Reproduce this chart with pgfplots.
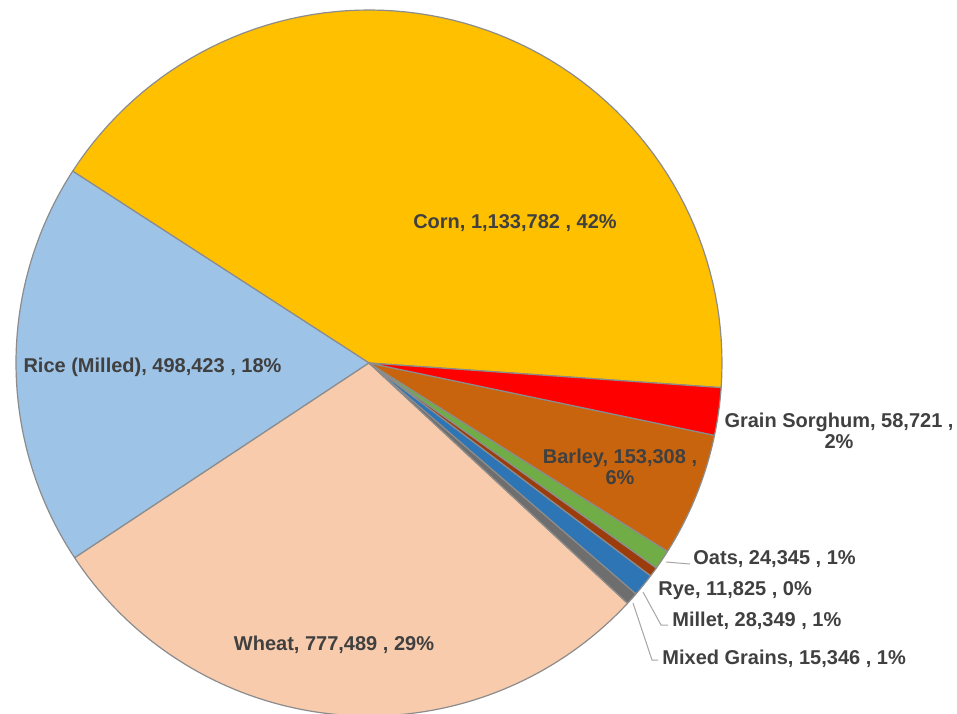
\documentclass[border=0pt]{standalone}
\usepackage{pgfplots}
\usepackage{pgfplotstable}
\pgfplotsset{compat=1.18}
\usepackage{fontspec}
\setmainfont{Liberation Sans}
\definecolor{cCorn}{HTML}{FFC000}
\definecolor{cRice}{HTML}{9DC3E6}
\definecolor{cWheat}{HTML}{F8CBAD}
\definecolor{cMixed}{HTML}{6E6E6E}
\definecolor{cMillet}{HTML}{2E75B6}
\definecolor{cRye}{HTML}{9C3C0C}
\definecolor{cOats}{HTML}{70AD47}
\definecolor{cBarley}{HTML}{C8640E}
\definecolor{cSorghum}{HTML}{FF0000}
\definecolor{edgec}{HTML}{8C8C8C}
\definecolor{labc}{HTML}{404040}
\definecolor{leadc}{HTML}{A6A6A6}
\pgfplotstableread{
name value col
Corn 1133782 cCorn
Rice 498423 cRice
Wheat 777489 cWheat
Mixed 15346 cMixed
Millet 28349 cMillet
Rye 11825 cRye
Oats 24345 cOats
Barley 153308 cBarley
Sorghum 58721 cSorghum
}\graindata
\newcommand\lfont{\fontsize{10}{10.5}\selectfont\bfseries}
\begin{document}
\begin{tikzpicture}
\def\total{0}
\pgfplotsforeachungrouped \i in {0,...,8}{%
  \pgfplotstablegetelem{\i}{value}\of\graindata
  \edef\total{\fpeval{\total+\pgfplotsretval}}%
}
\begin{axis}[scale only axis, width=478.5pt, height=356.5pt,
  xmin=-369, xmax=588, ymin=-350, ymax=363, hide axis, clip=true]
\def\cur{-4}
\pgfplotsforeachungrouped \i in {0,...,8}{%
  \pgfplotstablegetelem{\i}{value}\of\graindata\let\sliceval\pgfplotsretval
  \pgfplotstablegetelem{\i}{col}\of\graindata\let\slicecol\pgfplotsretval
  \edef\nxt{\fpeval{round(\cur+\sliceval/\total*360,4)}}%
  \edef\cmd{\noexpand\addplot[fill=\slicecol, draw=edgec, line width=0.6pt, line join=round, domain=\cur:\nxt, samples=80, data cs=polar] ({x},{353}) -- (axis cs:0,0) -- cycle;}%
  \cmd
  \let\cur\nxt
}
% leader lines
\draw[leadc, line width=0.5pt] (axis cs:297,-199) -- (axis cs:321,-201);
\draw[leadc, line width=0.5pt] (axis cs:274,-229) -- (axis cs:292,-262) -- (axis cs:299,-262);
\draw[leadc, line width=0.5pt] (axis cs:264,-240) -- (axis cs:283,-297) -- (axis cs:289,-297);
% labels
\node[font=\lfont, text=labc] at (axis cs:146,140) {Corn, 1,133,782 , 42\%};
\node[font=\lfont, text=labc] at (axis cs:-216.5,-4) {Rice (Milled), 498,423 , 18\%};
\node[font=\lfont, text=labc] at (axis cs:-35,-282) {Wheat, 777,489 , 29\%};
\node[font=\lfont, text=labc, align=center] at (axis cs:470,-68) {Grain Sorghum, 58,721 ,\\2\%};
\node[font=\lfont, text=labc, align=center] at (axis cs:251,-104) {Barley, 153,308 ,\\6\%};
\node[font=\lfont, text=labc, anchor=west, inner xsep=0pt] at (axis cs:324,-196) {Oats, 24,345 , 1\%};
\node[font=\lfont, text=labc, anchor=west, inner xsep=0pt] at (axis cs:289,-228) {Rye, 11,825 , 0\%};
\node[font=\lfont, text=labc, anchor=west, inner xsep=0pt] at (axis cs:303,-258) {Millet, 28,349 , 1\%};
\node[font=\lfont, text=labc, anchor=west, inner xsep=0pt] at (axis cs:293,-296) {Mixed Grains, 15,346 , 1\%};
\end{axis}
\pgfresetboundingbox
\path (current axis.south west) rectangle (current axis.north east);
\end{tikzpicture}
\end{document}
